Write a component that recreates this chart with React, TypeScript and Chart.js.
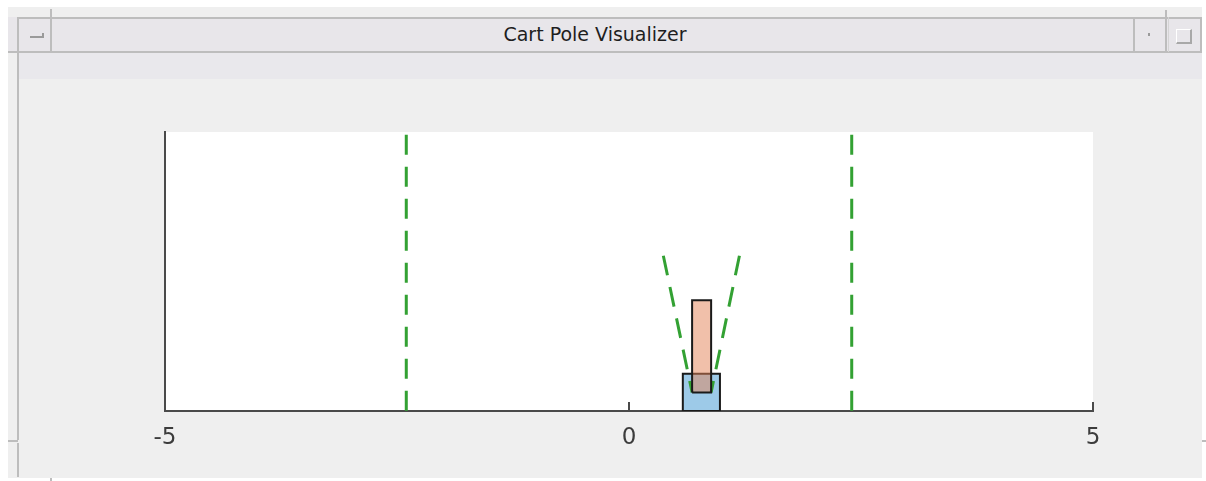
import React, { useEffect, useRef } from "react";
import { Chart, registerables } from "chart.js";

Chart.register(...registerables);

// ---- data ----
const xRange = [-5, 5];
const yRange = [0, 3];
const xTicks = [-5, 0, 5];
const boundaryX = [-2.4, 2.4];
const boundaryY = [2.97, 0];
const cartX = [0.58, 0.98, 0.98, 0.58, 0.58];
const cartY = [0, 0, 0.4, 0.4, 0];
const poleX = [0.68, 0.885, 0.885, 0.68, 0.68];
const poleY = [0.2, 0.2, 1.19, 1.19, 0.2];
const angleLeftX = [0.37, 0.68];
const angleLeftY = [1.67, 0.2];
const angleRightX = [1.19, 0.885];
const angleRightY = [1.67, 0.2];

const title = "Cart Pole Visualizer";

const GREEN = "#33a133";
const pts = (xs: number[], ys: number[]) => xs.map((x, i) => ({ x, y: ys[i] }));

const B = (s: React.CSSProperties) => <div style={{ position: "absolute", ...s }} />;

export default function App() {
  const ref = useRef<HTMLCanvasElement | null>(null);

  useEffect(() => {
    if (!ref.current) return;
    const dashed = {
      showLine: true,
      borderColor: GREEN,
      borderWidth: 3,
      borderDash: [20, 12],
      pointRadius: 0,
      fill: false,
    };
    const chart = new Chart(ref.current, {
      type: "scatter",
      data: {
        datasets: [
          {
            ...dashed,
            data: pts([boundaryX[0], boundaryX[0]], boundaryY),
            order: 5,
          },
          {
            ...dashed,
            data: pts([boundaryX[1], boundaryX[1]], boundaryY),
            order: 5,
          },
          {
            data: pts(cartX, cartY),
            showLine: true,
            borderColor: "#1a1a1a",
            borderWidth: 2,
            backgroundColor: "rgba(60,150,210,0.5)",
            fill: "shape",
            pointRadius: 0,
            order: 4,
          } as any,
          { ...dashed, data: pts(angleLeftX, angleLeftY), order: 3 },
          { ...dashed, data: pts(angleRightX, angleRightY), order: 3 },
          {
            data: pts(poleX, poleY),
            showLine: true,
            borderColor: "#1a1a1a",
            borderWidth: 2,
            backgroundColor: "rgba(228,130,85,0.5)",
            fill: "shape",
            pointRadius: 0,
            order: 1,
          } as any,
        ],
      },
      options: {
        animation: false,
        responsive: false,
        layout: { padding: { left: 165, right: 113, top: 132, bottom: 10 } },
        plugins: { legend: { display: false }, tooltip: { enabled: false } },
        scales: {
          x: {
            type: "linear",
            min: xRange[0],
            max: xRange[1],
            afterBuildTicks: (s: any) => {
              s.ticks = xTicks.map((v) => ({ value: v }));
            },
            afterFit: (s: any) => {
              s.height = 60;
            },
            grid: { display: true, drawOnChartArea: false, drawTicks: false, color: "transparent" },
            border: { display: true, color: "#4a4a4a", width: 2 },
            ticks: {
              font: { family: "DejaVu Sans", size: 23 },
              color: "#3c3c3c",
              padding: 13,
              maxRotation: 0,
              autoSkip: false,
            },
          },
          y: {
            type: "linear",
            min: yRange[0],
            max: yRange[1],
            afterFit: (s: any) => {
              s.width = 0;
            },
            grid: { display: true, drawOnChartArea: false, drawTicks: false, color: "transparent" },
            border: { display: true, color: "#4a4a4a", width: 2 },
            ticks: { display: false },
          },
        },
      },
      plugins: [
        {
          id: "bgAndTicks",
          beforeDraw: (c: any) => {
            const { ctx, chartArea } = c;
            ctx.save();
            ctx.fillStyle = "#ffffff";
            ctx.fillRect(chartArea.left, chartArea.top, chartArea.right - chartArea.left, chartArea.bottom - chartArea.top);
            ctx.restore();
          },
          afterDraw: (c: any) => {
            const { ctx, chartArea } = c;
            const sx = c.scales.x;
            ctx.save();
            ctx.strokeStyle = "#4a4a4a";
            ctx.lineWidth = 2;
            xTicks.forEach((v) => {
              const px = Math.round(sx.getPixelForValue(v));
              ctx.beginPath();
              ctx.moveTo(px, chartArea.bottom);
              ctx.lineTo(px, chartArea.bottom - 9);
              ctx.stroke();
            });
            ctx.restore();
          },
        },
      ],
    } as any);
    return () => chart.destroy();
  }, []);

  const line = "#bdbdbd";
  return (
    <div
      style={{
        position: "fixed",
        left: 0,
        top: 0,
        width: 1206,
        height: 481,
        background: "#ffffff",
        overflow: "hidden",
      }}
    >
      {B({ left: 8, top: 7, width: 1194, height: 471, background: "#efefef" })}
      {B({ left: 8, top: 17, width: 1194, height: 35, background: "#e8e6ea" })}
      {B({ left: 18, top: 53, width: 1184, height: 26, background: "#e9e8ec" })}
      {B({ left: 17, top: 17, width: 1185, height: 2, background: line })}
      {B({ left: 8, top: 51, width: 1194, height: 2, background: line })}
      {B({ left: 17, top: 17, width: 2, height: 423, background: line })}
      {B({ left: 8, top: 440, width: 10, height: 2, background: line })}
      {B({ left: 17, top: 443, width: 2, height: 34, background: line })}
      {B({ left: 50, top: 9, width: 2, height: 43, background: line })}
      {B({ left: 1133, top: 17, width: 2, height: 35, background: line })}
      {B({ left: 1165, top: 10, width: 2, height: 42, background: line })}
      {B({ left: 1168, top: 17, width: 1, height: 35, background: "#d4d4d4" })}
      {B({ left: 1200, top: 17, width: 2, height: 35, background: line })}
      {B({ left: 1202, top: 440, width: 4, height: 2, background: line })}
      {B({ left: 50, top: 478, width: 2, height: 3, background: line })}
      {B({ left: 30, top: 36, width: 13, height: 2, background: "#9a9a9a" })}
      {B({ left: 42, top: 33, width: 2, height: 5, background: "#9a9a9a" })}
      {B({ left: 1148, top: 33, width: 2, height: 3, background: "#9a9a9a" })}
      {B({
        left: 1176,
        top: 29,
        width: 13,
        height: 12,
        borderTop: "1px solid #ffffff",
        borderLeft: "1px solid #ffffff",
        borderRight: "2px solid #a8a8a8",
        borderBottom: "2px solid #a8a8a8",
      })}
      <div
        style={{
          position: "absolute",
          left: 395,
          top: 25,
          width: 400,
          textAlign: "center",
          font: "19px 'DejaVu Sans'",
          lineHeight: "19px",
          color: "#1e1e1e",
          whiteSpace: "nowrap",
        }}
      >
        {title}
      </div>
      <canvas
        ref={ref}
        width={1206}
        height={481}
        style={{ position: "absolute", left: 0, top: 0, width: 1206, height: 481, display: "block" }}
      />
    </div>
  );
}
